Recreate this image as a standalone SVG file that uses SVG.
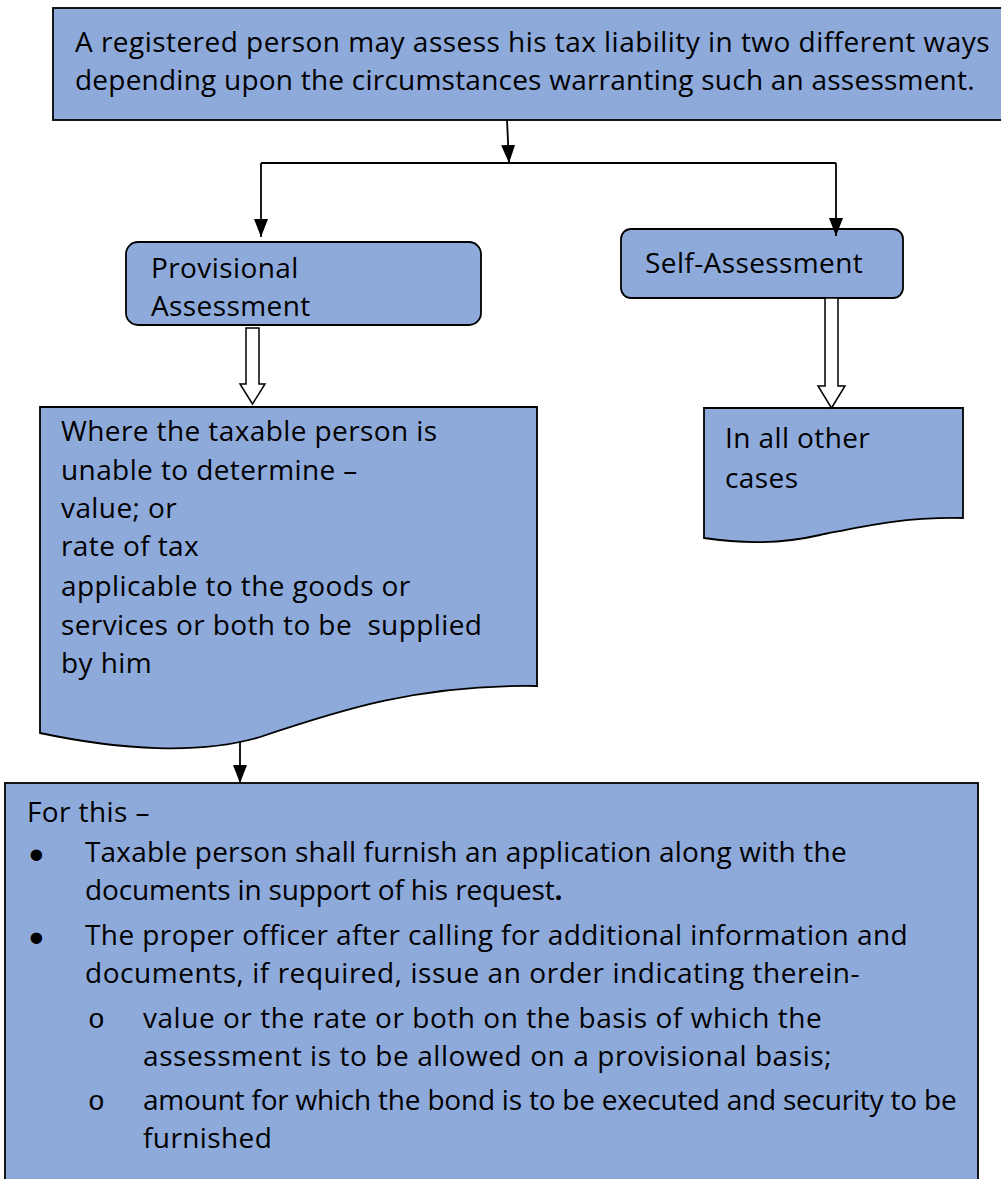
<svg xmlns="http://www.w3.org/2000/svg" width="1001" height="1179" viewBox="0 0 1001 1179">
<defs>
<style>
.box{fill:#8eaadb;stroke:#000;stroke-width:1.8}
.t{font-family:"Open Sans","Noto Sans","DejaVu Sans",sans-serif;font-size:28px;letter-spacing:0.4px;fill:#000}
.b{font-family:"Liberation Sans",Arial,sans-serif;font-size:42px;fill:#000}
.o{font-family:"Liberation Mono","Courier New",monospace;font-size:28px;fill:#000}
.c{stroke:#000;stroke-width:1.8;fill:none}
.blk{fill:#fff;stroke:#000;stroke-width:1.5}
</style>
<marker id="ah" markerUnits="userSpaceOnUse" markerWidth="18" markerHeight="14" refX="18" refY="7" orient="auto">
<path d="M0,0 L18,7 L0,14 Z" fill="#000"/>
</marker>
</defs>
<rect width="1001" height="1179" fill="#fff"/>
<g id="top">
<rect class="box" x="53" y="8" width="960" height="112"/>
<text class="t" x="75" y="52" textLength="915">A registered person may assess his tax liability in two different ways</text>
<text class="t" x="75" y="90" textLength="900">depending upon the circumstances warranting such an assessment.</text>
</g>
<g id="provisional">
<rect class="box" x="126" y="242" width="355" height="83" rx="12"/>
<text class="t" x="151" y="278">Provisional</text>
<text class="t" x="151" y="316">Assessment</text>
</g>
<g id="self">
<rect class="box" x="621" y="229" width="282" height="69" rx="10"/>
<text class="t" x="645" y="273">Self-Assessment</text>
</g>
<g id="prov-doc">
<path class="box" d="M40,407 H537 V686 C420,684 340,710 260,737 C200,755 120,750 40,733 Z"/>
<text class="t" x="61" y="441">Where the taxable person is</text>
<text class="t" x="61" y="480">unable to determine –</text>
<text class="t" x="61" y="518">value; or</text>
<text class="t" x="61" y="556">rate of tax</text>
<text class="t" x="61" y="596">applicable to the goods or</text>
<text class="t" x="61" y="635" xml:space="preserve">services or both to be  supplied</text>
<text class="t" x="61" y="673">by him</text>
</g>
<g id="self-doc">
<path class="box" d="M704,408 H963 V518 C900,517 860,527 820,535 C790,542 750,545 704,538 Z"/>
<text class="t" x="725" y="448">In all other</text>
<text class="t" x="725" y="488">cases</text>
</g>
<g id="details">
<rect class="box" x="5" y="783" width="973" height="410"/>
<text class="t" x="27" y="822">For this –</text>
<text class="b" x="29" y="869">•</text>
<text class="t" x="85" y="862" textLength="762">Taxable person shall furnish an application along with the</text>
<text class="t" x="85" y="900" textLength="478">documents in support of his request<tspan font-weight="bold">.</tspan></text>
<text class="b" x="29" y="952">•</text>
<text class="t" x="85" y="945" textLength="823">The proper officer after calling for additional information and</text>
<text class="t" x="85" y="983" textLength="775">documents, if required, issue an order indicating therein-</text>
<text class="o" x="88" y="1028">o</text>
<text class="t" x="143" y="1028" textLength="679">value or the rate or both on the basis of which the</text>
<text class="t" x="143" y="1066" textLength="689">assessment is to be allowed on a provisional basis;</text>
<text class="o" x="88" y="1110">o</text>
<text class="t" x="143" y="1110" textLength="814">amount for which the bond is to be executed and security to be</text>
<text class="t" x="143" y="1148">furnished</text>
</g>
<g id="connectors">
<line class="c" x1="507" y1="120" x2="509" y2="163" marker-end="url(#ah)"/>
<polyline class="c" points="261,163 836,163"/>
<line class="c" x1="261" y1="163" x2="261" y2="237" marker-end="url(#ah)"/>
<line class="c" x1="836" y1="163" x2="836" y2="236" marker-end="url(#ah)"/>
<polygon class="blk" points="246,328 259,328 259,384 265,384 252.5,404 240,384 246,384"/>
<polygon class="blk" points="825,298 838,298 838,386 845,386 831.5,408 818,386 825,386"/>
<line class="c" x1="240" y1="741" x2="240" y2="783" marker-end="url(#ah)"/>
</g>
</svg>
